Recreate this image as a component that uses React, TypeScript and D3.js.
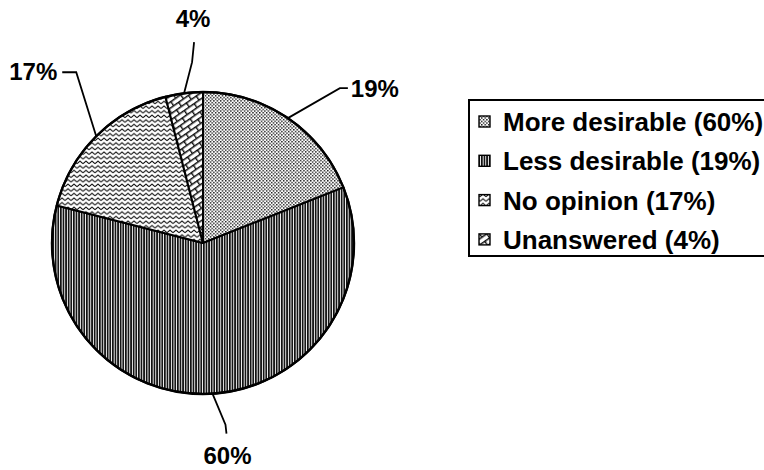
import React from "react";
import * as d3 from "d3";

const sliceValues = [19, 60, 17, 4];
const sliceLabels = ["19%", "60%", "17%", "4%"];
const slicePatterns = ["dots", "vlines", "zigzag", "bricks"];
const legendLabels = [
  "More desirable (60%)",
  "Less desirable (19%)",
  "No opinion (17%)",
  "Unanswered (4%)",
];

// leader line geometry offsets relative to the slice's outer point (layout, not data)
const leaderOffsets: { elbow: [number, number]; end: [number, number]; text: [number, number]; anchor: string }[] = [
  { elbow: [52, -30], end: [60, -30], text: [63, -21], anchor: "start" },
  { elbow: [13, 31], end: [14, 40], text: [15, 70], anchor: "middle" },
  { elbow: [-20, -64], end: [-34, -64], text: [-39, -56], anchor: "end" },
  { elbow: [8, -31], end: [10, -51], text: [9, -66], anchor: "middle" },
];

const W = 764;
const H = 470;
const cx = 203;
const cy = 243;
const R = 151;

export default function App() {
  const pie = d3.pie<number>().sort(null).value((d) => d)(sliceValues);
  const arc = d3.arc<d3.PieArcDatum<number>>().innerRadius(0).outerRadius(R);
  const font = "'Liberation Sans', Arial, sans-serif";

  const legendX = 469;
  const legendTop = 100;
  const legendStep = 39.3;
  const legendFirst = 122;
  const legendY = d3.scaleLinear().domain([0, 1]).range([legendFirst, legendFirst + legendStep]);

  return (
    <div style={{ position: "absolute", left: 0, top: 0 }}>
      <svg width={W} height={H} style={{ display: "block", background: "#fff" }}>
        <defs>
          <pattern id="dots" width="3.4" height="3.4" patternUnits="userSpaceOnUse">
            <rect width="3.4" height="3.4" fill="#fff" />
            <rect x="0" y="0" width="1.4" height="1.4" fill="#111" />
            <rect x="1.7" y="1.7" width="1.4" height="1.4" fill="#111" />
          </pattern>
          <pattern id="vlines" width="2.6" height="4" patternUnits="userSpaceOnUse">
            <rect width="2.6" height="4" fill="#fff" />
            <rect x="0" y="0" width="1.7" height="4" fill="#111" />
          </pattern>
          <pattern id="zigzag" width="6" height="4.6" patternUnits="userSpaceOnUse">
            <rect width="6" height="4.6" fill="#fff" />
            <path d="M0,3.4 L3,1 L6,3.4" fill="none" stroke="#111" strokeWidth="1.1" />
          </pattern>
          <pattern
            id="bricks"
            width="12"
            height="10"
            patternUnits="userSpaceOnUse"
            patternTransform="rotate(-35)"
          >
            <rect width="12" height="10" fill="#fff" />
            <path
              d="M0,0.7 H12 M0,5.7 H12 M0.7,0.7 V5.7 M6.7,5.7 V10.7"
              fill="none"
              stroke="#111"
              strokeWidth="1.4"
            />
          </pattern>
        </defs>

        <g transform={`translate(${cx},${cy})`}>
          {pie.map((p, i) => (
            <path
              key={i}
              d={arc(p) || ""}
              fill={`url(#${slicePatterns[i]})`}
              stroke="#000"
              strokeWidth={2}
              strokeLinejoin="round"
            />
          ))}
          <circle r={R} fill="none" stroke="#000" strokeWidth={2.4} />
          {pie.map((p, i) => {
            const mid = (p.startAngle + p.endAngle) / 2;
            const sx = R * Math.sin(mid);
            const sy = -R * Math.cos(mid);
            const o = leaderOffsets[i];
            return (
              <g key={`l${i}`}>
                <polyline
                  points={`${sx},${sy} ${sx + o.elbow[0]},${sy + o.elbow[1]} ${sx + o.end[0]},${sy + o.end[1]}`}
                  fill="none"
                  stroke="#000"
                  strokeWidth={1.8}
                />
                <text
                  x={sx + o.text[0]}
                  y={sy + o.text[1]}
                  textAnchor={o.anchor as any}
                  fontFamily={font}
                  fontWeight="bold"
                  fontSize={24}
                  fill="#000"
                >
                  {sliceLabels[i]}
                </text>
              </g>
            );
          })}
        </g>

        <rect
          x={legendX}
          y={legendTop}
          width={W - legendX + 10}
          height={156}
          fill="#fff"
          stroke="#000"
          strokeWidth={2}
        />
        {legendLabels.map((lab, i) => {
          const y = legendY(i);
          return (
            <g key={lab}>
              <rect
                x={legendX + 10}
                y={y - 6}
                width={11}
                height={11}
                fill={`url(#${slicePatterns[i]})`}
                stroke="#000"
                strokeWidth={1.4}
              />
              <text
                x={legendX + 34}
                y={y + 9}
                fontFamily={font}
                fontWeight="bold"
                fontSize={26}
                fill="#000"
              >
                {lab}
              </text>
            </g>
          );
        })}
      </svg>
    </div>
  );
}
